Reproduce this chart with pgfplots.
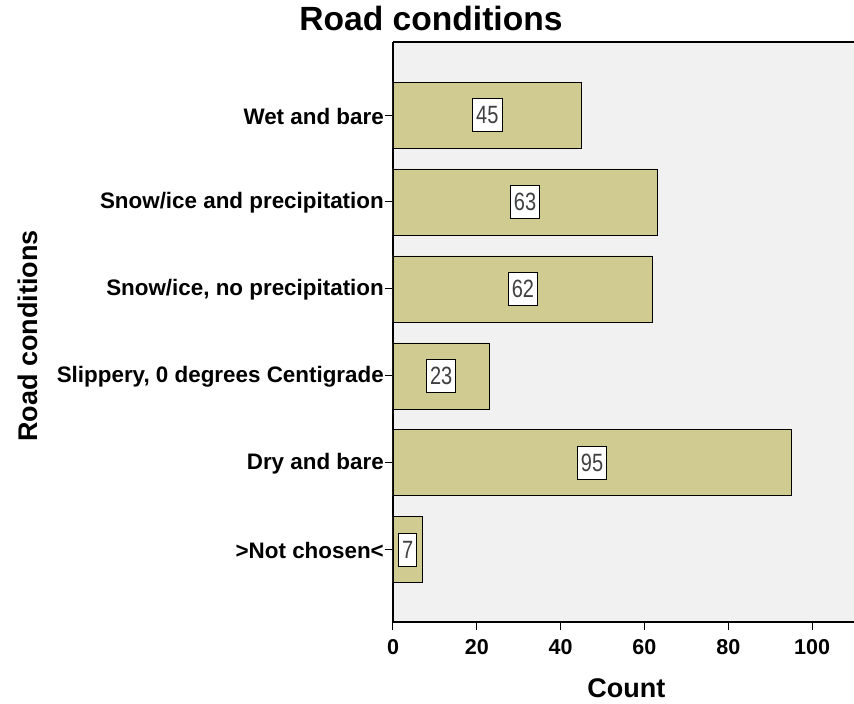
\documentclass[border=0pt]{standalone}
\usepackage{pgfplots}
\pgfplotsset{compat=1.18}
\usepackage{fontspec}
\setmainfont{Liberation Sans}
\newfontfamily\narrowfont[FakeStretch=0.8]{Liberation Sans}
\definecolor{barfill}{RGB}{208,204,145}
\definecolor{plotbg}{RGB}{241,241,241}
\begin{document}
\begin{tikzpicture}
\useasboundingbox (-393bp,-82bp) rectangle (461bp,622bp);
\begin{axis}[
  scale only axis, width=461bp, height=580bp,
  xmin=0, xmax=110, ymin=-0.83, ymax=5.84,
  xbar,
  axis x line*=bottom, axis y line*=left,
  axis line style={line width=1.2bp, black},
  tick align=outside,
  major tick length=8bp,
  tick style={black, line width=1bp},
  xtick={0,20,...,100},
  ytick={0,...,5},
  yticklabels={{>Not chosen<},{Dry and bare},{Slippery, 0 degrees Centigrade},{Snow/ice, no precipitation},{Snow/ice and precipitation},{Wet and bare}},
  /pgf/number format/assume math mode=true,
  yticklabel style={font=\bfseries\fontsize{22.4bp}{24bp}\selectfont, inner sep=1bp, yshift=-1bp},
  xticklabel style={font=\bfseries\fontsize{21.5bp}{24bp}\selectfont, inner sep=2bp, yshift=-7bp},
  axis background/.style={fill=plotbg},
  xlabel={Count}, ylabel={Road conditions},
  label style={font=\bfseries\fontsize{27bp}{30bp}\selectfont},
  xlabel style={at={(axis description cs:0.506,-0.1138)}, anchor=center},
  ylabel style={at={(axis description cs:-0.7918,0.493)}, anchor=center},
  title={Road conditions},
  title style={font=\bfseries\fontsize{33.6bp}{36bp}\selectfont, at={(axis description cs:0.0824,1.009)}, anchor=base},
]
\addplot[xbar, bar width=66bp, fill=barfill, draw=black, line width=0.8bp,
  visualization depends on=rawx \as \rawx,
  nodes near coords,
  nodes near coords style={anchor=center, shift={(axis direction cs:-\rawx/2,0)}, fill=white, draw=black, line width=0.8bp, text=black!75, font=\narrowfont\fontsize{25bp}{26bp}\selectfont, inner xsep=3.5bp, inner ysep=8bp},
] coordinates {(7,0) (95,1) (23,2) (62,3) (63,4) (45,5)};
\draw[black, line width=1.2bp] (rel axis cs:0,1) -- (rel axis cs:1,1);
\end{axis}
\end{tikzpicture}
\end{document}
